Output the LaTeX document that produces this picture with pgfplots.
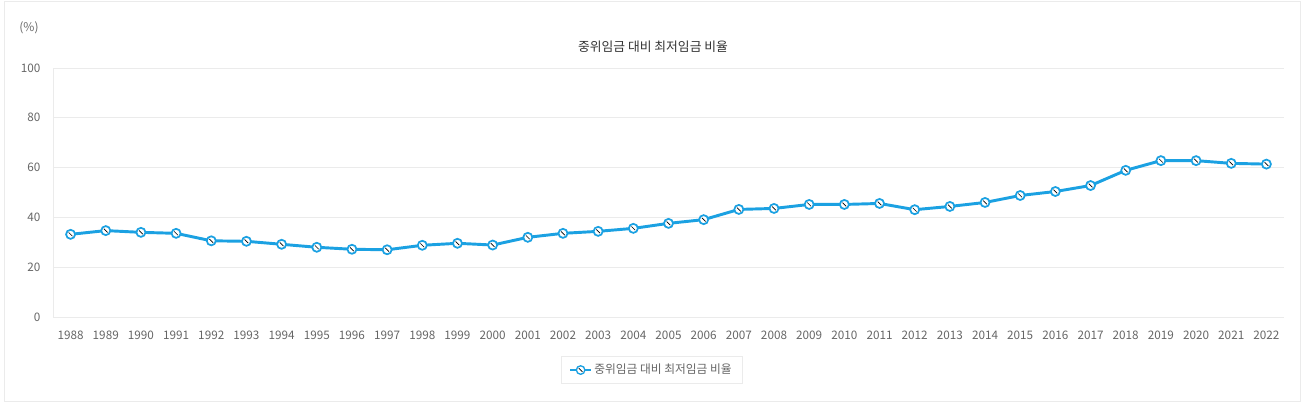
\documentclass[border=0pt]{standalone}
\usepackage{pgfplots}
\pgfplotsset{compat=1.18}
\usepackage{fontspec}
\setmainfont{Noto Sans CJK KR}
\definecolor{lineblue}{HTML}{1BA1E2}
\definecolor{txt}{HTML}{666666}
\definecolor{gridc}{HTML}{EBEBEB}
\pgfdeclareplotmark{ringslash}{%
  \pgfpathcircle{\pgfpointorigin}{\pgfplotmarksize}%
  \pgfusepathqfillstroke
  \begin{pgfscope}%
  \pgfsetlinewidth{0.5pt}%
  \pgfsetstrokecolor{black}%
  \pgfpathmoveto{\pgfqpoint{-1.4pt}{1.4pt}}%
  \pgfpathlineto{\pgfqpoint{1.4pt}{-1.4pt}}%
  \pgfusepathqstroke
  \end{pgfscope}%
}
\begin{document}
\begin{tikzpicture}[x=0.75pt,y=0.75pt]
\useasboundingbox (0,0) rectangle (1304,404);
\draw[gridc, line width=0.75pt] (4,3) rectangle (1300,402);
\node[text=txt, font=\fontsize{9}{10}\selectfont] at (29,376) {(\%)};
\node[text=black!80, font=\fontsize{9.6}{11}\selectfont] at (653,357) {중위임금 대비 최저임금 비율};
\begin{axis}[
  at={(39.75pt,65.25pt)}, anchor=south west,
  scale only axis,
  width=923.25pt, height=186.75pt,
  xmin=1987.5, xmax=2022.5,
  ymin=0, ymax=100,
  xtick=data,
  ytick={0,20,40,60,80,100},
  /pgf/number format/1000 sep={},
  /pgf/number format/assume math mode=true,
  major tick length=0pt,
  axis line style={gridc},
  ymajorgrids, grid style={gridc, line width=0.6pt},
  axis x line*=bottom, axis y line*=left,
  tick label style={text=txt, font=\fontsize{8.8}{10}\selectfont},
  yticklabel style={xshift=-6pt},
  xticklabel style={yshift=-7pt},
  legend style={at={(0.4866,-0.213)}, anchor=center, draw=gridc, line width=0.75pt,
     font=\fontsize{8.8}{10}\selectfont, text=txt, inner xsep=6pt, inner ysep=4pt},
  legend cell align=left,
  legend image code/.code={%
    \draw[lineblue, line width=0.9pt] (0cm,0cm) -- (0.55cm,0cm);
    \draw[lineblue, line width=1pt] plot[mark=ringslash, mark size=3.2pt,
        mark options={fill=white, draw=lineblue}] coordinates {(0.275cm,0cm)};
  },
]
\addplot[color=lineblue, line width=2.2pt, mark=ringslash, mark size=3.4pt,
  mark options={fill=white, line width=1.3pt, draw=lineblue}]
coordinates {
(1988,33.2) (1989,34.7) (1990,34.0) (1991,33.6) (1992,30.6) (1993,30.4)
(1994,29.2) (1995,28.0) (1996,27.2) (1997,27.0) (1998,28.8) (1999,29.6)
(2000,28.9) (2001,32.0) (2002,33.6) (2003,34.4) (2004,35.6) (2005,37.6)
(2006,39.1) (2007,43.2) (2008,43.6) (2009,45.2) (2010,45.2) (2011,45.6)
(2012,43.1) (2013,44.4) (2014,46.0) (2015,48.8) (2016,50.4) (2017,52.8)
(2018,58.9) (2019,62.8) (2020,62.8) (2021,61.7) (2022,61.4)
};
\addlegendentry{중위임금 대비 최저임금 비율}
\end{axis}
\end{tikzpicture}
\end{document}
